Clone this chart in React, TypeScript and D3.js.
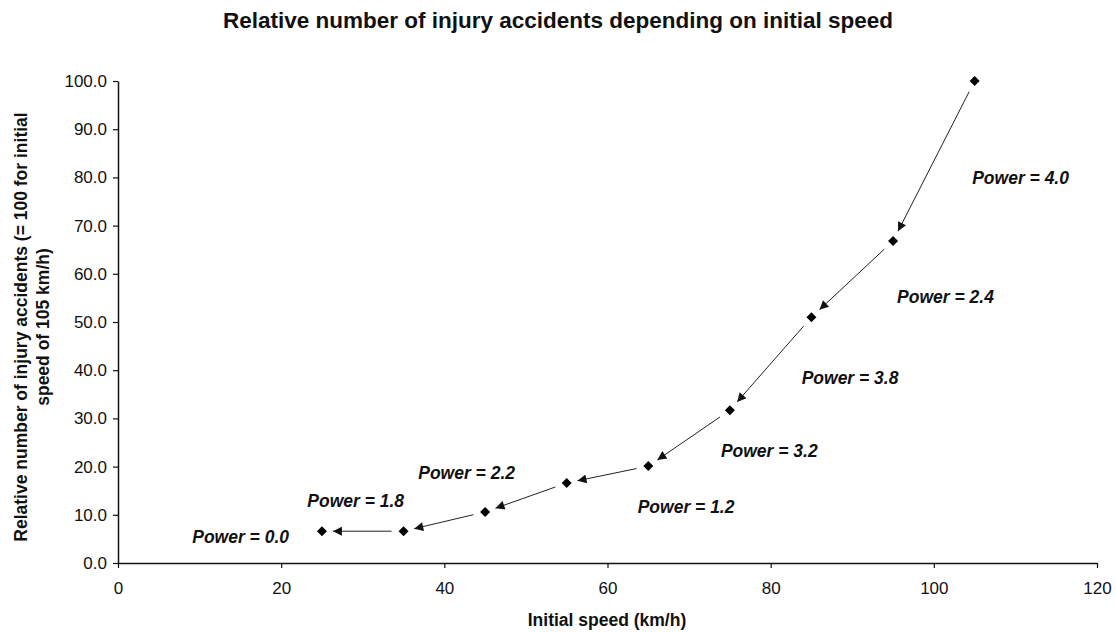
import React, { useRef, useEffect } from "react";
import * as d3 from "d3";

// initial speed (km/h) and relative number of injury accidents
const speeds = [25, 35, 45, 55, 65, 75, 85, 95, 105];
const accidents = [6.6, 6.6, 10.6, 16.6, 20.1, 31.7, 51.0, 66.8, 100.0];

// power labels: text, x (km/h) of left edge, y (value) of middle
const powerLabels = ["0.0", "1.8", "2.2", "1.2", "3.2", "3.8", "2.4", "4.0"];
const powerLabelX = [9.1, 23.2, 36.8, 63.7, 73.9, 83.8, 95.5, 104.7];
const powerLabelY = [5.4, 12.9, 18.7, 11.6, 23.2, 38.4, 55.2, 80.0];

const xTicks = [0, 20, 40, 60, 80, 100, 120];
const yTicks = [0, 10, 20, 30, 40, 50, 60, 70, 80, 90, 100];

const W = 1116, H = 632;
const margin = { top: 81, right: 19, bottom: 69, left: 118 };
const width = W - margin.left - margin.right;
const height = H - margin.top - margin.bottom;
const font = "'Liberation Sans', Arial, sans-serif";

const App = () => {
	const svgRef = useRef<SVGSVGElement>(null);

	useEffect(() => {
		const svg = d3.select(svgRef.current);
		svg.selectAll("*").remove();

		const x = d3.scaleLinear().domain([0, 120]).range([0, width]);
		const y = d3.scaleLinear().domain([0, 100]).range([height, 0]);

		svg.append("defs")
			.append("marker")
			.attr("id", "arrowhead")
			.attr("viewBox", "0 0 10 10")
			.attr("refX", 10)
			.attr("refY", 5)
			.attr("markerUnits", "userSpaceOnUse")
			.attr("markerWidth", 11)
			.attr("markerHeight", 9)
			.attr("orient", "auto")
			.append("path")
			.attr("d", "M0,0 L10,5 L0,10 Z")
			.attr("fill", "#111");

		svg.append("text")
			.attr("x", W / 2)
			.attr("y", 28)
			.attr("text-anchor", "middle")
			.attr("font-family", font)
			.attr("font-size", "22.5px")
			.attr("font-weight", 700)
			.attr("fill", "#111")
			.text("Relative number of injury accidents depending on initial speed");

		const g = svg.append("g")
			.attr("transform", `translate(${margin.left}, ${margin.top})`);

		// axes
		const yAxis = g.append("g")
			.call(d3.axisLeft(y).tickValues(yTicks).tickFormat(d3.format(".1f")).tickSize(5).tickSizeOuter(0).tickPadding(6));
		const xAxis = g.append("g")
			.attr("transform", `translate(0, ${height})`)
			.call(d3.axisBottom(x).tickValues(xTicks).tickFormat(d3.format("d")).tickSize(5).tickSizeOuter(0).tickPadding(14));

		[xAxis, yAxis].forEach(a => {
			a.select(".domain").attr("stroke", "#111").attr("stroke-width", 1.5);
			a.selectAll(".tick line").attr("stroke", "#111").attr("stroke-width", 1.2);
			a.selectAll(".tick text")
				.attr("font-family", font)
				.attr("font-size", "17px")
				.attr("fill", "#111");
		});

		// axis titles
		g.append("text")
			.attr("x", 489)
			.attr("y", height + 63)
			.attr("text-anchor", "middle")
			.attr("font-family", font)
			.attr("font-size", "17.5px")
			.attr("font-weight", 700)
			.attr("fill", "#111")
			.text("Initial speed (km/h)");

		const yTitle = g.append("text")
			.attr("transform", `translate(${-91.5}, ${246}) rotate(-90)`)
			.attr("text-anchor", "middle")
			.attr("font-family", font)
			.attr("font-size", "17.5px")
			.attr("font-weight", 700)
			.attr("fill", "#111");
		yTitle.append("tspan").attr("x", 0).attr("dy", 0)
			.text("Relative number of injury accidents (= 100 for initial");
		yTitle.append("tspan").attr("x", 0).attr("dy", 22)
			.text("speed of 105 km/h)");

		// arrows from each point down to the previous one
		const pts = speeds.map((s, i) => [x(s), y(accidents[i])]);
		const arrows = [];
		for (let i = pts.length - 1; i > 0; i--) {
			const [x1, y1] = pts[i];
			const [x2, y2] = pts[i - 1];
			const len = Math.hypot(x2 - x1, y2 - y1);
			const ux = (x2 - x1) / len, uy = (y2 - y1) / len;
			const gapStart = 12, gapEnd = 11;
			arrows.push({
				x1: x1 + ux * gapStart, y1: y1 + uy * gapStart,
				x2: x2 - ux * gapEnd, y2: y2 - uy * gapEnd
			});
		}
		g.append("g")
			.selectAll("line")
			.data(arrows)
			.join("line")
			.attr("x1", d => d.x1)
			.attr("y1", d => d.y1)
			.attr("x2", d => d.x2)
			.attr("y2", d => d.y2)
			.attr("stroke", "#222")
			.attr("stroke-width", 1)
			.attr("marker-end", "url(#arrowhead)");

		// diamond markers
		g.append("g")
			.selectAll("path")
			.data(speeds)
			.join("path")
			.attr("transform", (d, i) => `translate(${x(d)}, ${y(accidents[i])})`)
			.attr("d", "M0,-5 L5,0 L0,5 L-5,0 Z")
			.attr("fill", "#000");

		// power labels
		g.append("g")
			.selectAll("text")
			.data(powerLabels)
			.join("text")
			.attr("x", (d, i) => x(powerLabelX[i]))
			.attr("y", (d, i) => y(powerLabelY[i]))
			.attr("dy", "0.35em")
			.attr("font-family", font)
			.attr("font-size", "17.5px")
			.attr("font-weight", 700)
			.attr("font-style", "italic")
			.attr("fill", "#111")
			.text(d => "Power = " + d);
	}, []);

	return (
		<div style={{ position: "absolute", left: 0, top: 0, width: W, height: H, background: "#fff" }}>
			<svg ref={svgRef} width={W} height={H}></svg>
		</div>
	);
};

export default App;
